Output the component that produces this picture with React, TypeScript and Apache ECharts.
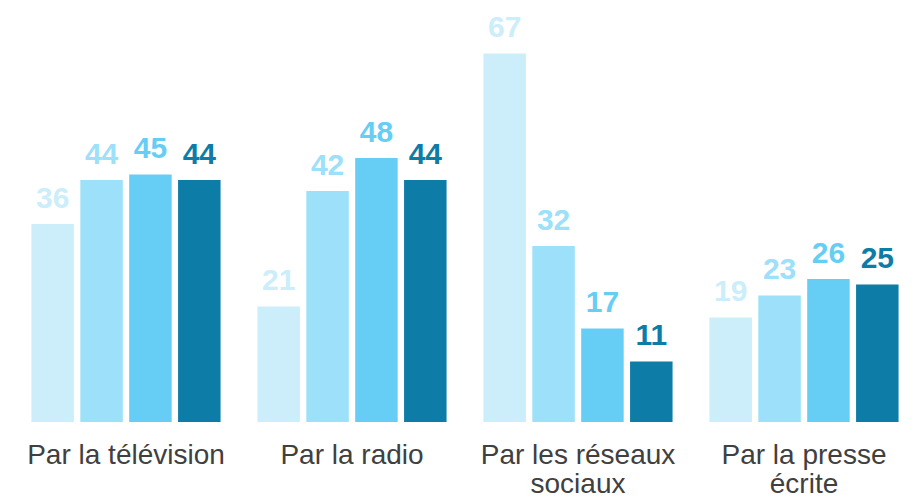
import React, { useEffect, useRef } from "react";
import * as echarts from "echarts";

const categories = [
  "Par la télévision",
  "Par la radio",
  "Par les réseaux\nsociaux",
  "Par la presse\nécrite",
];
const series1 = [36, 21, 67, 19];
const series2 = [44, 42, 32, 23];
const series3 = [45, 48, 17, 26];
const series4 = [44, 44, 11, 25];
const colors = ["#CCEEFA", "#9CE0F9", "#66CEF5", "#0D7DA8"];

export default function App() {
  const ref = useRef<HTMLDivElement>(null);
  useEffect(() => {
    if (!ref.current) return;
    const chart = echarts.init(ref.current, null, { renderer: "svg" });
    const all = [series1, series2, series3, series4];
    chart.setOption({
      animation: false,
      grid: { left: 13, width: 907, top: 37, bottom: 81, containLabel: false },
      xAxis: {
        type: "category",
        data: categories,
        axisLine: { show: false },
        axisTick: { show: false },
        axisLabel: {
          fontSize: 28,
          color: "#404040",
          fontFamily: "Liberation Sans",
          lineHeight: 29,
          margin: 18,
          interval: 0,
        },
      },
      yAxis: {
        type: "value",
        min: 0,
        max: 70,
        show: false,
        splitLine: { show: false },
      },
      series: all.map((d, i) => ({
        type: "bar",
        data: d,
        barWidth: 42.5,
        barGap: "15%",
        itemStyle: { color: colors[i] },
        label: {
          show: true,
          position: "top",
          distance: 12,
          color: colors[i],
          fontSize: 30,
          fontWeight: "bold",
          fontFamily: "Liberation Sans",
        },
      })),
    });
    return () => chart.dispose();
  }, []);
  return <div ref={ref} style={{ width: 917, height: 503, margin: -8 }} />;
}
